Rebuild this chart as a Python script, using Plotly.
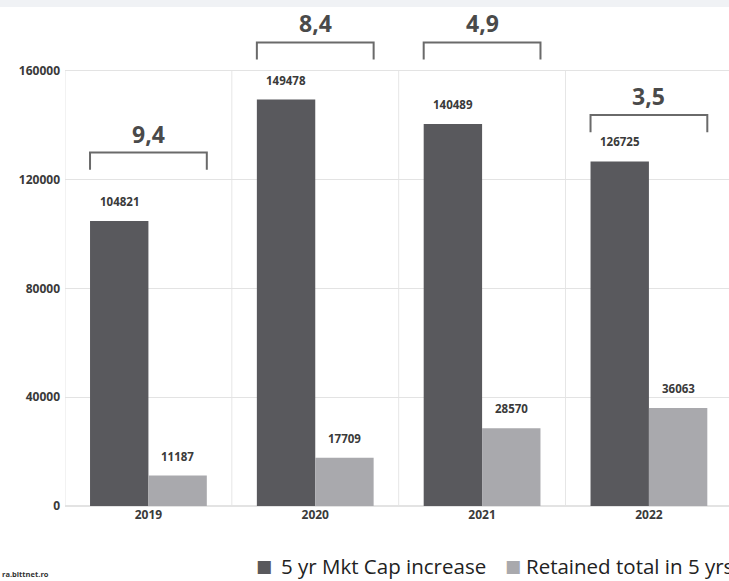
import plotly.graph_objects as go

years = ["2019", "2020", "2021", "2022"]
mkt_cap_increase = [104821, 149478, 140489, 126725]
retained_total = [11187, 17709, 28570, 36063]
ratio_labels = ["9,4", "8,4", "4,9", "3,5"]
bracket_level = [130000, 170500, 170500, 143800]
y_ticks = [0, 40000, 80000, 120000, 160000]
series_names = ["5 yr Mkt Cap increase", "Retained total in 5 yrs"]

DARK = "#59595d"
LIGHT = "#a9a9ad"
TXT = "#3a3a3a"
FONT = "Open Sans"
BARGAP = 0.30
L_MARGIN, PLOT_W, PLOT_H = 65, 664, 506


def px_x(p):
    return (p - L_MARGIN) / PLOT_W


def px_y(p):
    return (PLOT_H - p) / PLOT_H


fig = go.Figure()
for vals, name, col in [(mkt_cap_increase, series_names[0], DARK), (retained_total, series_names[1], LIGHT)]:
    fig.add_trace(go.Bar(x=list(range(len(years))), y=vals, name=name,
                         marker=dict(color=col, line=dict(width=0))))

shapes = []
annotations = []
# light top band
shapes.append(dict(type="rect", xref="paper", yref="paper", x0=-0.2, x1=1.1, y0=px_y(7), y1=1.0,
                   fillcolor="#f0f2f5", line=dict(width=0), layer="below"))
# vertical grid lines at category boundaries
for i in range(len(years) + 1):
    shapes.append(dict(type="line", xref="x", yref="y", x0=i - 0.5, x1=i - 0.5, y0=0, y1=y_ticks[-1],
                       line=dict(color="#e6e6e6", width=1), layer="below"))

half = (1 - BARGAP) / 2
# value labels above bars
for i in range(len(years)):
    for k, vals in enumerate([mkt_cap_increase, retained_total]):
        annotations.append(dict(x=i + (k - 0.5) * half, y=vals[i], xref="x", yref="y",
                                text=f"<b>{vals[i]}</b>", showarrow=False, yanchor="bottom", yshift=10,
                                font=dict(family=FONT, size=11.5, color=TXT)))

drop = 6300
for i, (lvl, lab) in enumerate(zip(bracket_level, ratio_labels)):
    shapes.append(dict(type="path", xref="x", yref="y",
                       path=f"M {i-half},{lvl-drop} L {i-half},{lvl} L {i+half},{lvl} L {i+half},{lvl-drop}",
                       line=dict(color="#6a6a6a", width=2)))
    annotations.append(dict(x=i, y=lvl, xref="x", yref="y", text=f"<b>{lab}</b>", showarrow=False,
                            yanchor="bottom", yshift=1,
                            font=dict(family=FONT, size=23, color="#4a4a4a")))

# legend (drawn as text so it can run off the right edge like the original)
leg_y = px_y(566)
for sq_px, txt_px, col, name in [(254, 279, DARK, series_names[0]), (503, 524, LIGHT, series_names[1])]:
    annotations.append(dict(xref="paper", yref="paper", x=px_x(sq_px), y=leg_y, xanchor="left",
                            yanchor="middle", showarrow=False, text="■",
                            font=dict(family="DejaVu Sans", size=17, color=col)))
    annotations.append(dict(xref="paper", yref="paper", x=px_x(txt_px), y=leg_y, xanchor="left",
                            yanchor="middle", showarrow=False, text=name,
                            font=dict(family=FONT, size=20.5, color="#222222")))

annotations.append(dict(
    xref="paper", yref="paper", x=px_x(0), y=px_y(574), xanchor="left", yanchor="middle", showarrow=False,
    text="<b>ra.bittnet.ro</b>", font=dict(family=FONT, size=7.5, color="#333333"),
))

fig.update_layout(
    width=729, height=581,
    margin=dict(l=L_MARGIN, r=0, t=0, b=581 - PLOT_H),
    paper_bgcolor="white", plot_bgcolor="white",
    barmode="group", bargap=BARGAP, bargroupgap=0,
    showlegend=False,
    shapes=shapes, annotations=annotations,
    xaxis=dict(range=[-0.5, 3.48], tickvals=list(range(len(years))), ticktext=years,
               showgrid=False, showline=False, zeroline=False, ticks="",
               tickfont=dict(family=FONT, size=12, color=TXT, weight="bold")),
    yaxis=dict(range=[0, 186100], tickvals=y_ticks, ticktext=[str(v) for v in y_ticks],
               showgrid=True, gridcolor="#e3e3e3", gridwidth=1, zeroline=True, zerolinecolor="#e3e3e3",
               showline=False, ticks="", ticklabelstandoff=4,
               tickfont=dict(family=FONT, size=12, color=TXT, weight="bold")),
)

fig.write_html("out.html", config={"displayModeBar": False},
               post_script="document.body.style.margin='0';document.body.style.overflow='hidden';")
